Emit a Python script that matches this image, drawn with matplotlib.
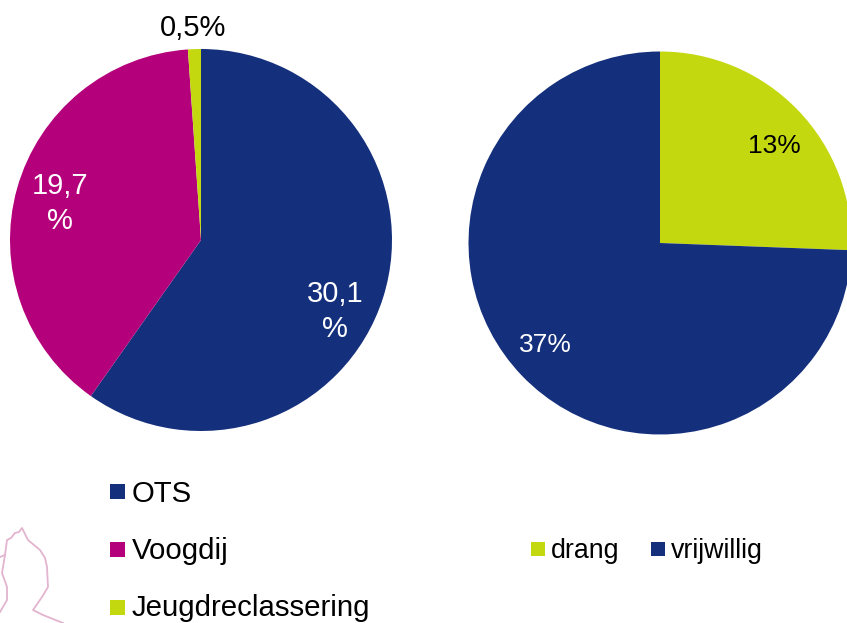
import matplotlib
matplotlib.use('Agg')
import matplotlib.pyplot as plt
from matplotlib.patches import Rectangle

plt.rcParams['font.family'] = ['Liberation Sans', 'DejaVu Sans']

NAVY = '#14307c'
PINK = '#b4007a'
LIME = '#c3d80f'

# left pie
left_names = ['OTS', 'Voogdij', 'Jeugdreclassering']
left_values = [30.1, 19.7, 0.55]
left_labels = ['30,1\n%', '19,7\n%', '0,5%']
left_colors = [NAVY, PINK, LIME]

# right pie
right_names = ['drang', 'vrijwillig']
right_values = [12.8, 37.2]
right_labels = ['13%', '37%']
right_colors = [LIME, NAVY]

fig = plt.figure(figsize=(8.47, 6.23), dpi=100)
# whole figure in pixels, y going down like the screenshot
ax = fig.add_axes([0, 0, 1, 1])

ax.pie(left_values, colors=left_colors, center=(201, -240), radius=191,
       startangle=90, counterclock=False, frame=True)
ax.pie(right_values, colors=right_colors, center=(660, -243), radius=191.5,
       startangle=90, counterclock=False, frame=True)
ax.set_xlim(0, 847)
ax.set_ylim(-623, 0)
ax.set_aspect('equal')
ax.axis('off')

# pie labels
left_pos = [(335, -311.5), (60, -203.5), (193, -28)]
left_txt = ['white', 'white', 'black']
for lab, pos, c in zip(left_labels, left_pos, left_txt):
    ax.text(pos[0], pos[1], lab, color=c, fontsize=21, ha='center', va='center',
            linespacing=1.36)

right_pos = [(774, -146), (545, -345)]
right_txt = ['black', 'white']
for lab, pos, c in zip(right_labels, right_pos, right_txt):
    ax.text(pos[0], pos[1], lab, color=c, fontsize=19, ha='center', va='center')

# legends by hand, the boxes sit at fixed places
for name, c, y, base in zip(left_names, left_colors, [492, 550, 608], [502, 559, 616]):
    ax.add_patch(Rectangle((110, -y - 7), 15, 15, color=c, lw=0))
    ax.text(132, -base, name, fontsize=21.2, ha='left', va='baseline')

for name, c, x in zip(right_names, right_colors, [531, 651]):
    ax.add_patch(Rectangle((x, -556), 14, 14, color=c, lw=0))
    ax.text(x + 20, -557.5, name, fontsize=19.3, ha='left', va='baseline')

# pale map outline, bottom left corner
out_x = [0, 5, 7, 11, 15, 19, 22, 28, 40, 45, 47, 48, 42, 33, 43, 63]
out_y = [557, 555, 540, 538, 533, 532, 528, 540, 550, 558, 567, 587, 597, 610, 615, 623]
ax.plot(out_x, [-v for v in out_y], color='#e3b4cf', lw=1.3)
ax.plot([5, 2, 7, 7, 0], [-555, -573, -587, -600, -612], color='#e3b4cf', lw=1.3)

fig.savefig('out.png', dpi=100)
